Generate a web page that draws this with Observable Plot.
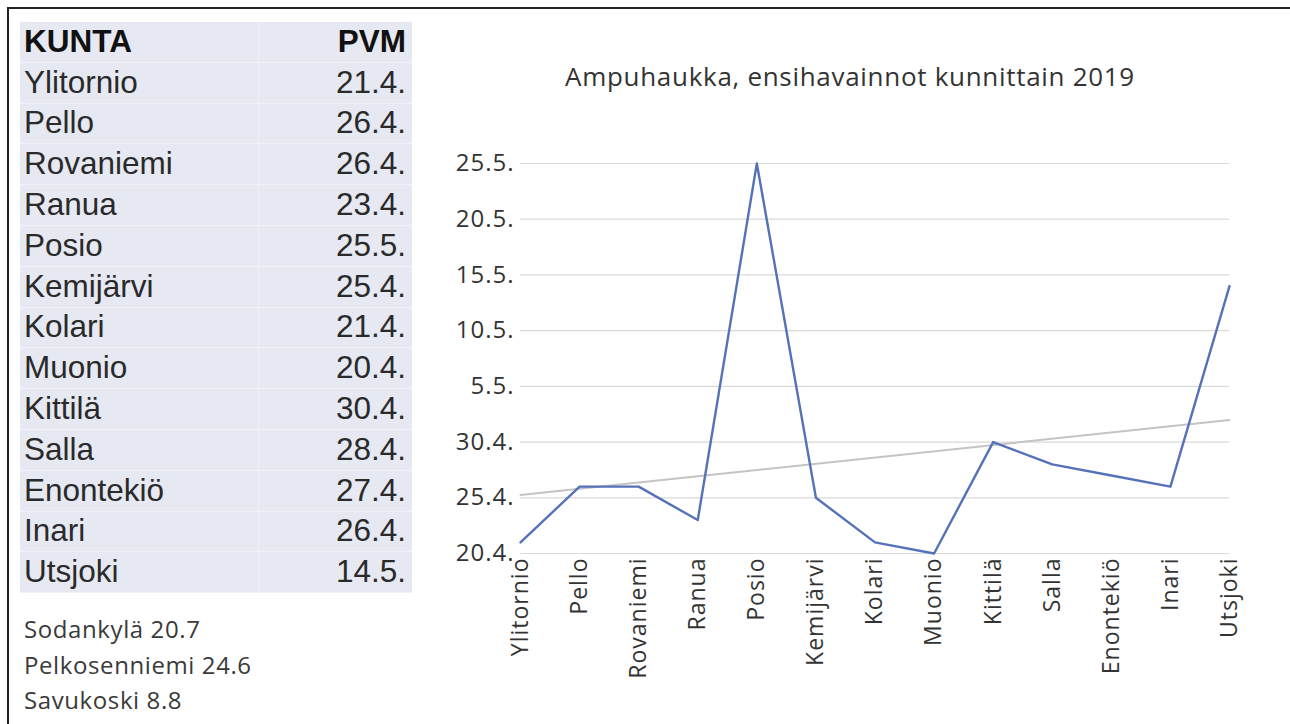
<!DOCTYPE html>
<html>
<head>
<meta charset="utf-8">
<script src="https://cdn.jsdelivr.net/npm/d3@7"></script>
<script src="https://cdn.jsdelivr.net/npm/@observablehq/plot@0.6"></script>
<style>
  html, body { margin: 0; padding: 0; background: #fff; }
  #page { position: relative; width: 1290px; height: 724px; overflow: hidden; background: #fff; }
  .bt { position: absolute; left: 7px; top: 7px; width: 1283px; height: 2px; background: #222; }
  .bl { position: absolute; left: 7px; top: 7px; width: 2px; height: 717px; background: #222; }
  #table { position: absolute; left: 20px; top: 22px; width: 392px; height: 571px; background: #e6e8f2; }
  .row { position: absolute; left: 0; width: 392px; height: 40.8px; box-sizing: border-box; border-bottom: 1px solid #f2f3f8; font-family: "Liberation Sans", Arial, sans-serif; font-size: 31.5px; color: #2a2a2a; }
  .row span { position: absolute; top: 50%; transform: translateY(-50%); line-height: 1; }
  .row .k { left: 4px; }
  .row .p { right: 6px; }
  .row.h { font-weight: bold; color: #111; }
  .vdiv { position: absolute; left: 238px; top: 0; width: 1px; height: 571px; background: #eff0f6; }
  .note { position: absolute; left: 24px; font-family: "Open Sans", sans-serif; font-size: 24px; letter-spacing: 0.6px; color: #3a3a3a; line-height: 1; transform: translateY(-50%); }
  #title { position: absolute; left: 450px; width: 800px; top: 76px; text-align: center; transform: translateY(-50%); font-family: "Open Sans", sans-serif; font-size: 26px; letter-spacing: 0.7px; color: #333; line-height: 1; }
  #chart { position: absolute; left: 420px; top: 130px; }
  #chart text { letter-spacing: 1px; }
</style>
</head>
<body>
<div id="page">
  <div class="bt"></div>
  <div class="bl"></div>
  <div id="table"><div class="vdiv"></div></div>
  <div id="notes"></div>
  <div id="title"></div>
  <div id="chart"></div>
</div>
<script>
// ---- data ----
const headers = ["KUNTA", "PVM"];
const kunnat = ["Ylitornio", "Pello", "Rovaniemi", "Ranua", "Posio", "Kemijärvi", "Kolari", "Muonio", "Kittilä", "Salla", "Enontekiö", "Inari", "Utsjoki"];
const pvm = ["21.4.", "26.4.", "26.4.", "23.4.", "25.5.", "25.4.", "21.4.", "20.4.", "30.4.", "28.4.", "27.4.", "26.4.", "14.5."];
const muut = ["Sodankylä 20.7", "Pelkosenniemi 24.6", "Savukoski 8.8"];
const yTickLabels = ["20.4.", "25.4.", "30.4.", "5.5.", "10.5.", "15.5.", "20.5.", "25.5."];
const title = "Ampuhaukka, ensihavainnot kunnittain 2019";

// ---- derived ----
const base = new Date(Date.UTC(2019, 3, 20));
function parsePvm(s) {
  const [d, m] = s.split(".").map(Number);
  return d3.utcDay.count(base, new Date(Date.UTC(2019, m - 1, d)));
}
const tickDays = yTickLabels.map(parsePvm);
const data = kunnat.map((k, i) => ({ i, kunta: k, day: parsePvm(pvm[i]) }));

// ---- table ----
const table = document.getElementById("table");
const rowH = 40.8;
[headers, ...kunnat.map((k, i) => [k, pvm[i]])].forEach((r, j) => {
  const div = document.createElement("div");
  div.className = "row" + (j === 0 ? " h" : "");
  div.style.top = (j * rowH) + "px";
  div.innerHTML = `<span class="k">${r[0]}</span><span class="p">${r[1]}</span>`;
  table.appendChild(div);
});
const notes = document.getElementById("notes");
muut.forEach((t, j) => {
  const d = document.createElement("div");
  d.className = "note";
  d.style.top = (629 + j * 35.5) + "px";
  d.textContent = t;
  notes.appendChild(d);
});
document.getElementById("title").textContent = title;

// ---- chart ----
const chart = Plot.plot({
  width: 860,
  height: 580,
  marginLeft: 100,
  marginRight: 51,
  marginTop: 33,
  marginBottom: 157,
  style: { fontFamily: "'Open Sans', sans-serif", background: "transparent", overflow: "visible" },
  x: { type: "linear", domain: [0, kunnat.length - 1] },
  y: { type: "linear", domain: [tickDays[0], tickDays[tickDays.length - 1]] },
  marks: [
    Plot.gridY(tickDays, { stroke: "#d9d9d9", strokeOpacity: 1, strokeWidth: 1.2 }),
    Plot.linearRegressionY(data, { x: "i", y: "day", stroke: "#c4c4c4", strokeWidth: 2, ci: 0 }),
    Plot.line(data, { x: "i", y: "day", stroke: "#5572b8", strokeWidth: 2.4 }),
    Plot.axisY({ ticks: tickDays, tickFormat: (d) => yTickLabels[tickDays.indexOf(d)], tickSize: 0, tickPadding: 6, fontSize: 24, fill: "#333", label: null }),
    Plot.axisX({ ticks: d3.range(kunnat.length), tickFormat: (i) => kunnat[i], tickRotate: -90, tickSize: 0, tickPadding: 4, fontSize: 23, fill: "#333", label: null })
  ]
});
document.getElementById("chart").appendChild(chart);
</script>
</body>
</html>
